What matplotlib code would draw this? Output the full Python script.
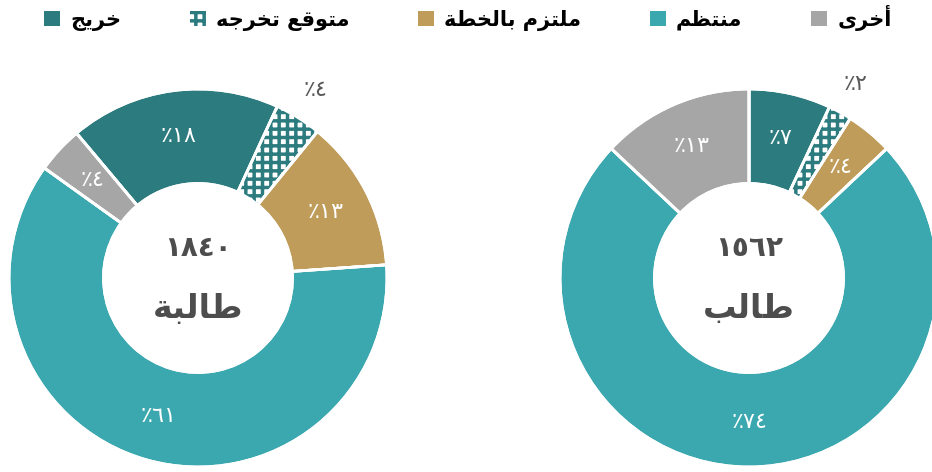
import matplotlib
matplotlib.use("Agg")
import numpy as np
import matplotlib.pyplot as plt
from matplotlib.patches import Patch

plt.rcParams['font.family'] = ['DejaVu Sans']
plt.rcParams['hatch.linewidth'] = 2.5

# categories in clockwise order (first slice starts the ring)
categories = ['خريج', 'متوقع تخرجه', 'ملتزم بالخطة', 'منتظم', 'أخرى']
colors = ['#2C7B7F', '#FFFFFF', '#BF9C5A', '#3BA8AF', '#A6A6A6']
male_pct = [7, 2, 4, 74, 13]
female_pct = [18, 4, 13, 61, 4]
male_total = '١٥٦٢'
female_total = '١٨٤٠'
male_word = 'طالب'
female_word = 'طالبة'
ar_digits = '٠١٢٣٤٥٦٧٨٩'

# matplotlib has no Arabic shaping: pick presentation forms by hand
# letter: (isolated, final, initial, medial)
FORMS = {
    'ا': ('\uFE8D', '\uFE8E', None, None),
    'أ': ('\uFE83', '\uFE84', None, None),
    'ب': ('\uFE8F', '\uFE90', '\uFE91', '\uFE92'),
    'ة': ('\uFE93', '\uFE94', None, None),
    'ت': ('\uFE95', '\uFE96', '\uFE97', '\uFE98'),
    'ج': ('\uFE9D', '\uFE9E', '\uFE9F', '\uFEA0'),
    'خ': ('\uFEA5', '\uFEA6', '\uFEA7', '\uFEA8'),
    'ر': ('\uFEAD', '\uFEAE', None, None),
    'ز': ('\uFEAF', '\uFEB0', None, None),
    'ط': ('\uFEC1', '\uFEC2', '\uFEC3', '\uFEC4'),
    'ظ': ('\uFEC5', '\uFEC6', '\uFEC7', '\uFEC8'),
    'ع': ('\uFEC9', '\uFECA', '\uFECB', '\uFECC'),
    'ق': ('\uFED5', '\uFED6', '\uFED7', '\uFED8'),
    'ل': ('\uFEDD', '\uFEDE', '\uFEDF', '\uFEE0'),
    'م': ('\uFEE1', '\uFEE2', '\uFEE3', '\uFEE4'),
    'ن': ('\uFEE5', '\uFEE6', '\uFEE7', '\uFEE8'),
    'ه': ('\uFEE9', '\uFEEA', '\uFEEB', '\uFEEC'),
    'و': ('\uFEED', '\uFEEE', None, None),
    'ى': ('\uFEEF', '\uFEF0', None, None),
    'ي': ('\uFEF1', '\uFEF2', '\uFEF3', '\uFEF4'),
}


def shape(text):
    out = []
    for i, ch in enumerate(text):
        forms = FORMS.get(ch)
        if forms is None:
            out.append(ch)
            continue
        prev = text[i - 1] if i > 0 else ''
        nxt = text[i + 1] if i + 1 < len(text) else ''
        join_prev = prev in FORMS and FORMS[prev][2] is not None
        join_next = forms[2] is not None and nxt in FORMS
        if join_prev and join_next:
            out.append(forms[3])
        elif join_prev:
            out.append(forms[1])
        elif join_next:
            out.append(forms[2])
        else:
            out.append(forms[0])
    return ''.join(reversed(out))


def pct_label(v):
    return '٪' + ''.join(ar_digits[int(d)] for d in str(v))


DARK = '#2C7B7F'
TEXT = '#595959'

fig = plt.figure(figsize=(9.32, 4.72), dpi=100)
W, H = 932, 472
R = 189


def donut(cx, cy, values, start, total, word):
    ax = fig.add_axes([(cx - R) / W, (cy - R) / H, 2 * R / W, 2 * R / H])
    wedges, _ = ax.pie(values, colors=colors, startangle=start,
                       counterclock=False, radius=1,
                       wedgeprops=dict(width=0.5, edgecolor='white',
                                       linewidth=2))
    # checkered slice: dark hatch on white, no border
    w = wedges[1]
    w.set_edgecolor(DARK)
    w.set_hatch('++')
    w.set_linewidth(0)
    ax.pie(values, startangle=start, counterclock=False, radius=1,
           wedgeprops=dict(width=0.5, edgecolor='white', linewidth=2,
                           fill=False))
    for i, (wd, v) in enumerate(zip(wedges, values)):
        ang = np.deg2rad((wd.theta1 + wd.theta2) / 2)
        if i == 1:
            r, col = 1.17, TEXT
        else:
            r, col = 0.76, 'white'
        ax.text(r * np.cos(ang), r * np.sin(ang), pct_label(v),
                ha='center', va='center', fontsize=16, color=col)
    ax.text(0, 0.16, total, ha='center', va='center', fontsize=20,
            fontweight='bold', color='#4D4D4D')
    ax.text(0, -0.16, shape(word), ha='center', va='center', fontsize=24,
            fontweight='bold', color='#4D4D4D')
    ax.set_xlim(-1, 1)
    ax.set_ylim(-1, 1)
    ax.set_aspect('equal')
    ax.axis('off')


donut(198, 194, female_pct, 130, female_total, female_word)
donut(749, 194, male_pct, 90, male_total, male_word)

handles = []
for c, name in zip(colors, categories):
    if c == '#FFFFFF':
        handles.append(Patch(facecolor='white', edgecolor=DARK, hatch='++',
                             linewidth=0, label=shape(name)))
    else:
        handles.append(Patch(facecolor=c, edgecolor='none', label=shape(name)))
fig.legend(handles=handles, loc='center', bbox_to_anchor=(0.502, 0.962),
           ncol=5, frameon=False, handlelength=0.75,
           handleheight=0.75, handletextpad=0.5, columnspacing=3.3,
           prop=dict(weight='bold', size=15))

fig.savefig('out.png', dpi=100)
